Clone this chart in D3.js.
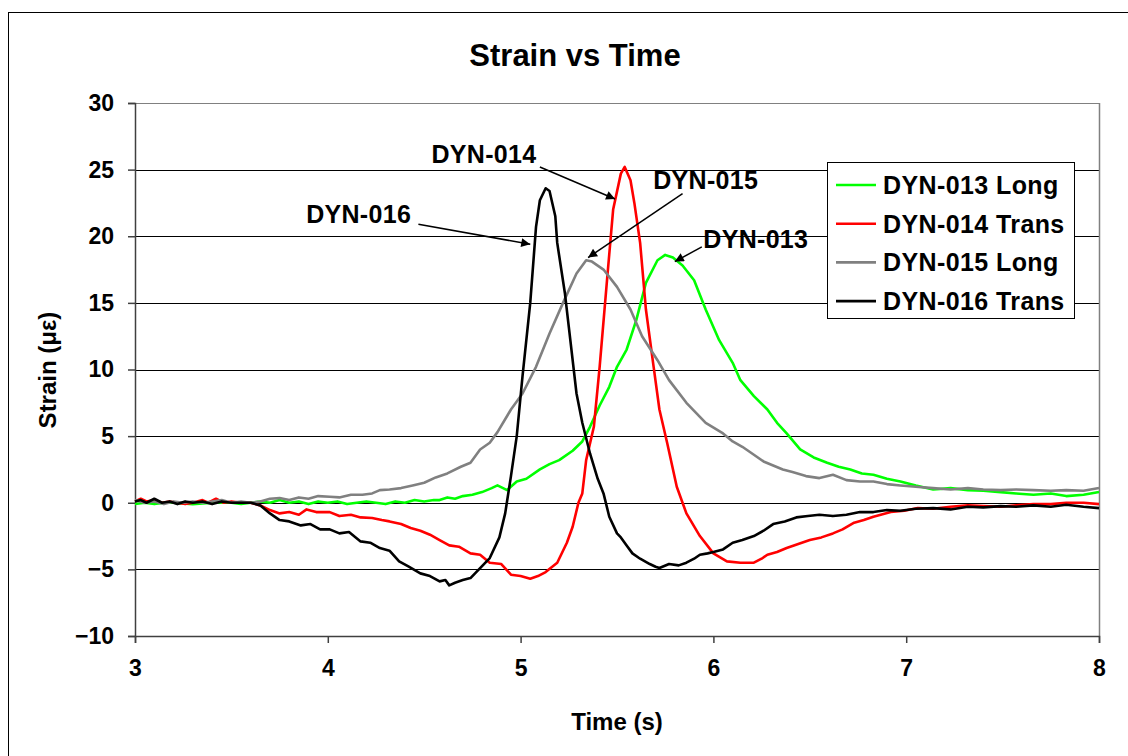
<!DOCTYPE html>
<html>
<head>
<meta charset="utf-8">
<script src="https://cdn.jsdelivr.net/npm/d3@7"></script>
<style>
  body { margin: 0; background: #fff; }
  text { font-family: "Liberation Sans", Arial, sans-serif; font-weight: bold; fill: #000; }
</style>
</head>
<body>
<svg id="chart" width="1128" height="756"></svg>
<script>
// strain readings, [time (s), strain]
const dyn013 = [[3.00,-0.1],[3.05,0.0],[3.10,-0.1],[3.15,0.0],[3.20,0.0],[3.30,-0.1],[3.40,0.0],[3.50,0.0],[3.55,-0.1],[3.60,0.0],[3.65,0.1],[3.70,0.0],[3.75,0.2],[3.80,0.0],[3.85,0.1],[3.90,-0.1],[3.95,0.1],[4.00,0.0],[4.05,0.1],[4.10,-0.1],[4.15,0.0],[4.20,0.1],[4.25,0.0],[4.30,-0.1],[4.35,0.1],[4.40,0.0],[4.45,0.2],[4.50,0.1],[4.55,0.2],[4.58,0.2],[4.62,0.4],[4.66,0.3],[4.70,0.5],[4.75,0.6],[4.80,0.8],[4.85,1.1],[4.88,1.3],[4.93,0.95],[4.98,1.6],[5.03,1.8],[5.10,2.5],[5.15,2.9],[5.20,3.2],[5.27,3.9],[5.32,4.6],[5.36,5.7],[5.41,7.3],[5.46,8.7],[5.50,10.2],[5.55,11.5],[5.60,13.7],[5.65,16.5],[5.71,18.2],[5.75,18.6],[5.79,18.4],[5.84,17.8],[5.90,16.7],[5.96,14.5],[6.03,12.2],[6.10,10.5],[6.14,9.2],[6.21,8.0],[6.28,7.0],[6.33,6.0],[6.38,5.2],[6.45,4.0],[6.52,3.4],[6.59,3.0],[6.65,2.7],[6.71,2.5],[6.77,2.2],[6.83,2.1],[6.90,1.8],[6.97,1.6],[7.05,1.3],[7.14,1.0],[7.23,1.1],[7.32,0.95],[7.40,0.9],[7.49,0.8],[7.57,0.7],[7.66,0.6],[7.75,0.7],[7.83,0.5],[7.92,0.6],[8.00,0.8]];

const dyn014 = [[3.00,0.1],[3.03,0.3],[3.06,0.1],[3.10,0.2],[3.14,0.0],[3.18,0.1],[3.22,0.0],[3.26,-0.1],[3.30,0.0],[3.35,0.2],[3.38,0.0],[3.42,0.3],[3.46,0.0],[3.50,0.1],[3.55,0.0],[3.60,0.0],[3.65,-0.2],[3.70,-0.55],[3.75,-0.8],[3.80,-0.7],[3.85,-0.9],[3.89,-0.5],[3.94,-0.7],[4.01,-0.7],[4.06,-1.0],[4.12,-0.9],[4.17,-1.1],[4.23,-1.15],[4.28,-1.3],[4.32,-1.4],[4.38,-1.6],[4.43,-1.9],[4.48,-2.1],[4.53,-2.4],[4.58,-2.8],[4.63,-3.2],[4.68,-3.3],[4.74,-3.8],[4.79,-3.9],[4.84,-4.5],[4.90,-4.6],[4.95,-5.4],[5.00,-5.5],[5.05,-5.7],[5.09,-5.5],[5.13,-5.2],[5.19,-4.5],[5.24,-3.0],[5.27,-1.8],[5.30,0.0],[5.32,0.7],[5.34,3.2],[5.38,5.7],[5.41,10.2],[5.45,17.0],[5.48,22.0],[5.52,24.7],[5.54,25.2],[5.57,24.2],[5.59,22.5],[5.62,19.5],[5.65,14.5],[5.69,10.2],[5.72,7.0],[5.76,4.5],[5.81,1.2],[5.86,-0.8],[5.93,-2.5],[6.00,-3.8],[6.07,-4.4],[6.14,-4.5],[6.21,-4.5],[6.25,-4.2],[6.28,-3.9],[6.33,-3.7],[6.38,-3.4],[6.44,-3.1],[6.50,-2.8],[6.56,-2.6],[6.62,-2.3],[6.67,-2.0],[6.73,-1.5],[6.78,-1.3],[6.83,-1.05],[6.92,-0.7],[6.99,-0.6],[7.06,-0.4],[7.14,-0.45],[7.23,-0.3],[7.32,-0.2],[7.40,-0.25],[7.49,-0.3],[7.57,-0.2],[7.66,-0.1],[7.75,-0.1],[7.83,0.0],[7.92,0.0],[8.00,-0.1]];

const dyn015 = [[3.00,0.2],[3.05,0.0],[3.10,0.1],[3.15,-0.1],[3.20,0.1],[3.25,0.0],[3.30,0.1],[3.35,0.0],[3.40,0.1],[3.45,0.2],[3.50,0.0],[3.55,0.1],[3.60,0.0],[3.65,0.1],[3.70,0.3],[3.75,0.35],[3.80,0.2],[3.85,0.4],[3.90,0.3],[3.95,0.5],[4.01,0.45],[4.06,0.4],[4.12,0.6],[4.18,0.6],[4.23,0.7],[4.27,0.95],[4.32,1.0],[4.38,1.1],[4.44,1.3],[4.50,1.5],[4.56,1.9],[4.62,2.2],[4.69,2.7],[4.74,3.0],[4.79,4.0],[4.84,4.5],[4.88,5.3],[4.95,7.0],[5.01,8.2],[5.08,10.2],[5.15,12.7],[5.22,15.0],[5.29,17.2],[5.34,18.2],[5.37,18.1],[5.43,17.5],[5.50,16.2],[5.57,14.5],[5.63,12.5],[5.71,10.7],[5.77,9.2],[5.86,7.5],[5.96,6.0],[6.05,5.2],[6.10,4.6],[6.15,4.2],[6.21,3.6],[6.26,3.1],[6.31,2.8],[6.36,2.5],[6.41,2.3],[6.48,2.0],[6.55,1.85],[6.62,2.1],[6.69,1.7],[6.76,1.6],[6.83,1.6],[6.90,1.4],[6.97,1.3],[7.05,1.2],[7.14,1.1],[7.23,1.0],[7.32,1.1],[7.40,1.0],[7.49,0.95],[7.57,1.0],[7.66,0.95],[7.75,0.9],[7.83,0.95],[7.92,0.9],[8.00,1.1]];

const dyn016 = [[3.00,0.1],[3.03,0.2],[3.06,0.0],[3.10,0.3],[3.14,0.0],[3.18,0.1],[3.22,-0.1],[3.26,0.1],[3.30,0.0],[3.35,0.1],[3.40,-0.1],[3.45,0.1],[3.50,0.0],[3.55,0.0],[3.60,0.0],[3.65,-0.2],[3.70,-0.8],[3.75,-1.3],[3.80,-1.4],[3.86,-1.7],[3.91,-1.6],[3.96,-2.0],[4.01,-2.0],[4.06,-2.3],[4.11,-2.2],[4.17,-2.9],[4.22,-3.0],[4.27,-3.4],[4.32,-3.6],[4.37,-4.4],[4.42,-4.8],[4.48,-5.3],[4.53,-5.5],[4.58,-5.9],[4.61,-5.8],[4.63,-6.2],[4.66,-6.0],[4.70,-5.8],[4.74,-5.65],[4.79,-4.9],[4.84,-4.15],[4.89,-2.6],[4.92,-0.8],[4.95,2.0],[4.98,5.0],[5.01,9.5],[5.05,15.0],[5.08,20.7],[5.10,22.7],[5.13,23.6],[5.15,23.4],[5.18,21.5],[5.19,19.5],[5.23,15.7],[5.25,13.2],[5.29,8.2],[5.32,6.0],[5.36,3.7],[5.40,1.8],[5.43,0.7],[5.46,-1.05],[5.50,-2.3],[5.52,-2.6],[5.55,-3.2],[5.58,-3.8],[5.62,-4.2],[5.67,-4.6],[5.70,-4.8],[5.72,-4.9],[5.77,-4.6],[5.82,-4.7],[5.86,-4.5],[5.90,-4.2],[5.93,-3.9],[5.97,-3.8],[6.00,-3.7],[6.05,-3.5],[6.10,-3.0],[6.15,-2.8],[6.21,-2.5],[6.26,-2.1],[6.31,-1.6],[6.37,-1.4],[6.43,-1.1],[6.49,-1.0],[6.55,-0.9],[6.62,-1.0],[6.69,-0.9],[6.76,-0.7],[6.83,-0.7],[6.90,-0.55],[6.97,-0.6],[7.05,-0.45],[7.14,-0.4],[7.23,-0.5],[7.32,-0.3],[7.40,-0.35],[7.49,-0.25],[7.57,-0.3],[7.66,-0.2],[7.75,-0.3],[7.83,-0.15],[7.92,-0.3],[8.00,-0.4]];

const seriesNames = ["DYN-013 Long", "DYN-014 Trans", "DYN-015 Long", "DYN-016 Trans"];
const seriesColors = ["#00ff00", "#ff0000", "#808080", "#000000"];
const seriesData = [dyn013, dyn014, dyn015, dyn016];

const xTicks = [3, 4, 5, 6, 7, 8];
const yTicks = [-10, -5, 0, 5, 10, 15, 20, 25, 30];

// callouts: label, label position, arrow start, arrow tip (time, strain)
const calloutLabels = ["DYN-014", "DYN-015", "DYN-016", "DYN-013"];
const calloutText = [[4.81, 26.2], [5.96, 24.2], [4.16, 21.7], [6.22, 19.8]];
const calloutFrom = [[5.10, 25.2], [5.84, 23.2], [4.47, 20.9], [5.94, 19.2]];
const calloutTo = [[5.49, 22.8], [5.35, 18.4], [5.05, 19.4], [5.80, 18.1]];

const svg = d3.select('#chart');
const margin = {left: 135, top: 103, right: 1099, bottom: 636};

// outer chart frame
svg.append('rect')
    .attr('x', 8.5).attr('y', 12.5)
    .attr('width', 1140).attr('height', 770)
    .attr('fill', 'none').attr('stroke', '#000').attr('stroke-width', 1);

let x = d3.scaleLinear().domain([3, 8]).range([margin.left, margin.right]);
let y = d3.scaleLinear().domain([-10, 30]).range([margin.bottom, margin.top]);

// gridlines
svg.append('g').selectAll('line')
    .data(yTicks.filter(d => d > -10))
    .join('line')
    .attr('x1', margin.left).attr('x2', margin.right)
    .attr('y1', d => Math.round(y(d)) + 0.5).attr('y2', d => Math.round(y(d)) + 0.5)
    .attr('stroke', d => d == 30 ? '#808080' : '#000')
    .attr('stroke-width', 1);

// right border of plot area
svg.append('line')
    .attr('x1', margin.right + 0.5).attr('x2', margin.right + 0.5)
    .attr('y1', margin.top).attr('y2', margin.bottom)
    .attr('stroke', '#808080').attr('stroke-width', 1.5);

// axes
let yAxis = svg.append('g')
    .attr('transform', `translate(${margin.left},0)`)
    .call(d3.axisLeft(y).tickValues(yTicks).tickSize(7).tickPadding(14));
let xAxis = svg.append('g')
    .attr('transform', `translate(0,${margin.bottom})`)
    .call(d3.axisBottom(x).tickValues(xTicks).tickSize(7).tickPadding(17).tickFormat(d3.format('d')));

[xAxis, yAxis].forEach(ax => {
    ax.select('.domain').attr('stroke', '#404040').attr('stroke-width', 1.5);
    ax.selectAll('.tick line').attr('stroke', '#404040').attr('stroke-width', 1.5);
    ax.selectAll('text').style('font-size', '23px').attr('font-family', null);
});

// data lines
let line = d3.line().x(d => x(d[0])).y(d => y(d[1]));
svg.append('g').selectAll('path')
    .data(seriesData)
    .join('path')
    .attr('d', line)
    .attr('fill', 'none')
    .attr('stroke', (d, i) => seriesColors[i])
    .attr('stroke-width', 2.6)
    .attr('stroke-linejoin', 'round');

// arrow marker
svg.append('defs').append('marker')
    .attr('id', 'arrow')
    .attr('viewBox', '0 0 10 10')
    .attr('refX', 10).attr('refY', 5)
    .attr('markerWidth', 12).attr('markerHeight', 9)
    .attr('markerUnits', 'userSpaceOnUse')
    .attr('orient', 'auto')
    .append('path').attr('d', 'M0,0 L10,5 L0,10 Z').attr('fill', '#000');

let callouts = svg.append('g');
calloutLabels.forEach((lab, i) => {
    callouts.append('line')
        .attr('x1', x(calloutFrom[i][0])).attr('y1', y(calloutFrom[i][1]))
        .attr('x2', x(calloutTo[i][0])).attr('y2', y(calloutTo[i][1]))
        .attr('stroke', '#000').attr('stroke-width', 1.5)
        .attr('marker-end', 'url(#arrow)');
    callouts.append('text')
        .attr('x', x(calloutText[i][0])).attr('y', y(calloutText[i][1]))
        .attr('text-anchor', 'middle')
        .attr('dominant-baseline', 'central')
        .style('font-size', '25px')
        .style('letter-spacing', '0.3px')
        .text(lab);
});

// legend
let legend = svg.append('g').attr('transform', 'translate(827,162)');
legend.append('rect')
    .attr('x', 0.5).attr('y', 0.5).attr('width', 247).attr('height', 156)
    .attr('fill', '#fff').attr('stroke', '#000').attr('stroke-width', 1);
seriesNames.forEach((name, i) => {
    let ly = 23 + i * 38.7;
    legend.append('line')
        .attr('x1', 9).attr('x2', 49).attr('y1', ly).attr('y2', ly)
        .attr('stroke', seriesColors[i]).attr('stroke-width', 2.6);
    legend.append('text')
        .attr('x', 56).attr('y', ly)
        .attr('dominant-baseline', 'central')
        .style('font-size', '25px')
        .style('letter-spacing', '0.4px')
        .text(name);
});

// titles
svg.append('text')
    .attr('x', 575).attr('y', 55)
    .attr('text-anchor', 'middle').attr('dominant-baseline', 'central')
    .style('font-size', '31px')
    .text('Strain vs Time');
svg.append('text')
    .attr('x', 617).attr('y', 721)
    .attr('text-anchor', 'middle').attr('dominant-baseline', 'central')
    .style('font-size', '24px')
    .text('Time (s)');
svg.append('text')
    .attr('transform', 'translate(47,370) rotate(-90)')
    .attr('text-anchor', 'middle').attr('dominant-baseline', 'central')
    .style('font-size', '24px')
    .text('Strain (με)');
</script>
</body>
</html>
